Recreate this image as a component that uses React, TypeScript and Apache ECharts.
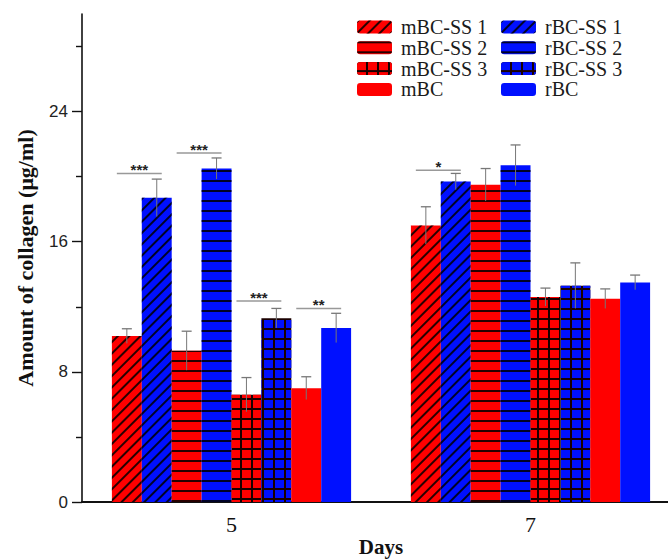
import React, { useEffect, useRef } from 'react';
import * as echarts from 'echarts';

const days = ['5', '7'];
const seriesNames = ['mBC-SS 1', 'rBC-SS 1', 'mBC-SS 2', 'rBC-SS 2', 'mBC-SS 3', 'rBC-SS 3', 'mBC', 'rBC'];
const day5Values = [10.2, 18.7, 9.3, 20.5, 6.6, 11.3, 7.0, 10.7];
const day7Values = [17.0, 19.7, 19.5, 20.7, 12.6, 13.3, 12.5, 13.5];
const day5Errors = [0.45, 1.15, 1.2, 0.65, 1.05, 0.6, 0.7, 0.9];
const day7Errors = [1.15, 0.5, 1.0, 1.25, 0.55, 1.4, 0.6, 0.45];
const yMajorTicks = [0, 8, 16, 24];
const yMinorTicks = [4, 12, 20, 28];
// [dayIndex, firstBar, secondBar, yValue, stars]
const sigBrackets: [number, number, number, number, string][] = [
  [0, 0, 1, 20.2, '***'],
  [0, 2, 3, 21.45, '***'],
  [0, 4, 5, 12.35, '***'],
  [0, 6, 7, 11.9, '**'],
  [1, 0, 1, 20.4, '*'],
];
const legendLeft = ['mBC-SS 1', 'mBC-SS 2', 'mBC-SS 3', 'mBC'];
const legendRight = ['rBC-SS 1', 'rBC-SS 2', 'rBC-SS 3', 'rBC'];

const RED = '#ff0000';
const BLUE = '#0010ff';
const SERIF = '"Liberation Serif", "Times New Roman", serif';
const SANS = '"Liberation Sans", Arial, sans-serif';

function styleFor(i: number) {
  const base = i % 2 === 0 ? RED : BLUE;
  const kind = Math.floor(i / 2);
  if (kind === 0) {
    return {
      color: base,
      decal: {
        symbol: 'rect',
        symbolSize: 1,
        color: 'rgba(0,0,0,0.85)',
        dashArrayX: [1, 0],
        dashArrayY: [1.2, 6],
        rotation: -Math.PI / 4,
      },
    };
  }
  if (kind === 1) {
    return {
      color: base,
      decal: {
        symbol: 'rect',
        symbolSize: 1,
        color: 'rgba(0,0,0,0.85)',
        dashArrayX: [1, 0],
        dashArrayY: [1.3, 7.9],
        rotation: 0,
      },
    };
  }
  if (kind === 2) {
    return {
      color: '#1a0000',
      decal: {
        symbol: 'rect',
        symbolSize: 1,
        color: base,
        dashArrayX: [8.3, 1.3],
        dashArrayY: [8, 1.3],
        rotation: 0,
      },
    };
  }
  return { color: base, decal: 'none' };
}

const legendBase = {
  orient: 'vertical',
  top: 12,
  itemWidth: 35,
  itemHeight: 13,
  itemGap: 0.8,
  textStyle: { fontFamily: SERIF, fontSize: 20, color: '#1a1a1a', padding: [0, 0, 0, 4] },
  selectedMode: false,
};

export default function App() {
  const ref = useRef<HTMLDivElement>(null);
  useEffect(() => {
    if (!ref.current) return;
    const chart = echarts.init(ref.current, undefined, { renderer: 'svg' });

    const barSeries = seriesNames.map((name, i) => ({
      name,
      type: 'bar',
      data: [day5Values[i], day7Values[i]],
      barGap: '0%',
      barCategoryGap: '20%',
      itemStyle: styleFor(i),
      z: 2,
    }));

    const errorData: number[][] = [];
    [day5Values, day7Values].forEach((vals, ci) => {
      const errs = ci === 0 ? day5Errors : day7Errors;
      vals.forEach((v, i) => errorData.push([ci, i, v, errs[i]]));
    });

    const option: any = {
      animation: false,
      grid: { left: 82, top: 14, width: 598, height: 488, containLabel: false, outerBoundsMode: 'none' },
      legend: [
        { ...legendBase, data: legendLeft, left: 352 },
        { ...legendBase, data: legendRight, left: 496 },
      ],
      xAxis: [
        {
          type: 'category',
          data: days,
          name: 'Days',
          nameLocation: 'middle',
          nameGap: 34,
          nameMoveOverlap: false,
          nameTextStyle: { fontFamily: SERIF, fontWeight: 'bold', fontSize: 21, color: '#111' },
          axisLine: { lineStyle: { color: '#111', width: 1.6 } },
          axisTick: { show: false },
          axisLabel: { fontFamily: SERIF, fontSize: 22, color: '#111', margin: 11 },
        },
        {
          type: 'category',
          data: days,
          position: 'top',
          axisLine: { lineStyle: { color: '#111', width: 1.8 } },
          axisTick: { show: false },
          axisLabel: { show: false },
        },
      ],
      yAxis: [
        {
          type: 'value',
          min: 0,
          max: 30,
          name: 'Amount of collagen (\u03bcg/ml)',
          nameLocation: 'middle',
          nameGap: 46,
          nameTextStyle: { fontFamily: SERIF, fontWeight: 'bold', fontSize: 22, color: '#111' },
          axisLine: { show: true, lineStyle: { color: '#111', width: 1.6 } },
          axisTick: { show: true, length: 10, customValues: yMajorTicks, lineStyle: { color: '#111', width: 1.4 } },
          axisLabel: { customValues: yMajorTicks, fontFamily: SANS, fontSize: 17, color: '#222', margin: 14 },
          splitLine: { show: false },
        },
        {
          type: 'value',
          min: 0,
          max: 30,
          position: 'left',
          axisLine: { show: false },
          axisTick: { show: true, length: 6, customValues: yMinorTicks, lineStyle: { color: '#111', width: 1.4 } },
          axisLabel: { show: false },
          splitLine: { show: false },
        },
      ],
      series: [
        ...barSeries,
        {
          type: 'custom',
          name: 'errors',
          data: errorData,
          encode: { x: 0, y: 2 },
          z: 5,
          renderItem: (params: any, api: any) => {
            const cat = api.value(0);
            const idx = api.value(1);
            const v = api.value(2);
            const e = api.value(3);
            const band = api.size([1, 0])[0];
            const bw = (band * 0.8) / 8;
            const top = api.coord([cat, v + e]);
            const bot = api.coord([cat, v - e]);
            const x = top[0] + (idx - 3.5) * bw;
            return {
              type: 'group',
              children: [
                { type: 'line', shape: { x1: x, y1: top[1], x2: x, y2: bot[1] }, style: { stroke: '#777', lineWidth: 1 } },
                { type: 'line', shape: { x1: x - 5, y1: top[1], x2: x + 5, y2: top[1] }, style: { stroke: '#777', lineWidth: 1.3 } },
              ],
            };
          },
        },
        {
          type: 'custom',
          name: 'significance',
          data: sigBrackets.map((b) => [b[0], b[1], b[2], b[3], b[4]]),
          encode: { x: 0, y: 3 },
          z: 6,
          renderItem: (params: any, api: any) => {
            const b = sigBrackets[params.dataIndex];
            const band = api.size([1, 0])[0];
            const bw = (band * 0.8) / 8;
            const p = api.coord([b[0], b[3]]);
            const x1 = p[0] + (b[1] - 3.5) * bw - 10;
            const x2 = p[0] + (b[2] - 3.5) * bw + 5;
            return {
              type: 'group',
              children: [
                { type: 'line', shape: { x1, y1: p[1], x2, y2: p[1] }, style: { stroke: '#999', lineWidth: 1.5 } },
                {
                  type: 'text',
                  x: (x1 + x2) / 2,
                  y: p[1] + 4,
                  style: {
                    text: b[4],
                    fill: '#222',
                    font: `bold 15px ${SANS}`,
                    textAlign: 'center',
                    textVerticalAlign: 'bottom',
                  },
                },
              ],
            };
          },
        },
      ],
    };
    chart.setOption(option);
    return () => chart.dispose();
  }, []);
  return <div ref={ref} style={{ position: 'absolute', left: 0, top: 0, width: 668, height: 559, background: '#fff' }} />;
}
